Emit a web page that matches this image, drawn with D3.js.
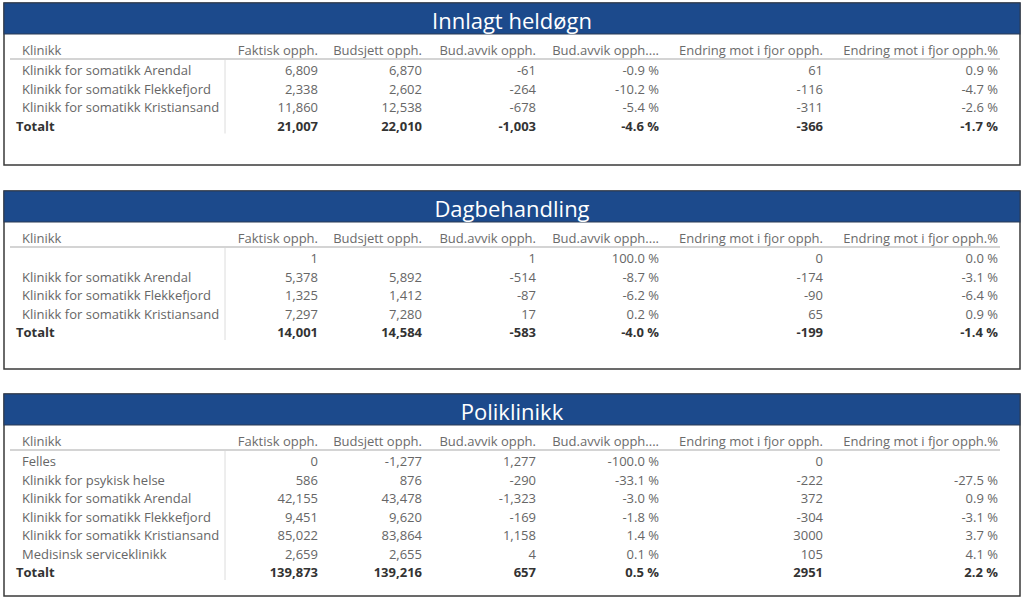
<!DOCTYPE html>
<html><head><meta charset="utf-8">
<script src="https://cdn.jsdelivr.net/npm/d3@7"></script>
<style>
html,body{margin:0;padding:0;background:#fff;}
svg{display:block;font-family:"Open Sans","Noto Sans",sans-serif;}
</style></head>
<body><svg id="c" width="1024" height="601"></svg>
<script>
// ---- data ----
const columns = ["Klinikk","Faktisk opph.","Budsjett opph.","Bud.avvik opph.","Bud.avvik opph....","Endring mot i fjor opph.","Endring mot i fjor opph.%"];

const titles = ["Innlagt heldøgn","Dagbehandling","Poliklinikk"];

const innlagtKlinikk  = ["Klinikk for somatikk Arendal","Klinikk for somatikk Flekkefjord","Klinikk for somatikk Kristiansand","Totalt"];
const innlagtFaktisk  = [6809, 2338, 11860, 21007];
const innlagtBudsjett = [6870, 2602, 12538, 22010];
const innlagtAvvik    = [-61, -264, -678, -1003];
const innlagtAvvikPct = [-0.9, -10.2, -5.4, -4.6];
const innlagtEndring  = [61, -116, -311, -366];
const innlagtEndrPct  = [0.9, -4.7, -2.6, -1.7];

const dagKlinikk  = ["","Klinikk for somatikk Arendal","Klinikk for somatikk Flekkefjord","Klinikk for somatikk Kristiansand","Totalt"];
const dagFaktisk  = [1, 5378, 1325, 7297, 14001];
const dagBudsjett = [null, 5892, 1412, 7280, 14584];
const dagAvvik    = [1, -514, -87, 17, -583];
const dagAvvikPct = [100.0, -8.7, -6.2, 0.2, -4.0];
const dagEndring  = [0, -174, -90, 65, -199];
const dagEndrPct  = [0.0, -3.1, -6.4, 0.9, -1.4];

const poliKlinikk  = ["Felles","Klinikk for psykisk helse","Klinikk for somatikk Arendal","Klinikk for somatikk Flekkefjord","Klinikk for somatikk Kristiansand","Medisinsk serviceklinikk","Totalt"];
const poliFaktisk  = [0, 586, 42155, 9451, 85022, 2659, 139873];
const poliBudsjett = [-1277, 876, 43478, 9620, 83864, 2655, 139216];
const poliAvvik    = [1277, -290, -1323, -169, 1158, 4, 657];
const poliAvvikPct = [-100.0, -33.1, -3.0, -1.8, 1.4, 0.1, 0.5];
const poliEndring  = [0, -222, 372, -304, 3000, 105, 2951];
const poliEndrPct  = [null, -27.5, 0.9, -3.1, 3.7, 4.1, 2.2];

const tables = [
  [innlagtKlinikk, innlagtFaktisk, innlagtBudsjett, innlagtAvvik, innlagtAvvikPct, innlagtEndring, innlagtEndrPct],
  [dagKlinikk, dagFaktisk, dagBudsjett, dagAvvik, dagAvvikPct, dagEndring, dagEndrPct],
  [poliKlinikk, poliFaktisk, poliBudsjett, poliAvvik, poliAvvikPct, poliEndring, poliEndrPct]
];

// ---- layout ----
const panelTop = [3, 191, 394];
const panelBottom = [165, 369, 596];
const L = 4, R = 1020, headH = 31;
const blue = "#1c4a8c";
const FS = 13;

const hy = s => s.replace(/\u2212/g, "-");
const fmtNum = v => hy(d3.format(",")(v));
const fmtInt = v => hy(d3.format("d")(v));
const fmtPct = v => hy(d3.format(".1f")(v)) + " %";
const formats = [null, fmtNum, fmtNum, fmtNum, fmtPct, fmtInt, fmtPct];

// column right edges (col 0 is left-anchored)
const colX = d3.scaleOrdinal().domain(d3.range(columns.length))
  .range([22, 318, 422, 536, 659, 823, 998]);

const svg = d3.select("#c");

tables.forEach((cols, ti) => {
  const top = panelTop[ti], bottom = panelBottom[ti];
  const g = svg.append("g");
  const n = cols[0].length;
  const rowY = d3.scaleLinear().domain([0, 1]).range([top + 67, top + 67 + 18.5]);

  g.append("rect").attr("x", L).attr("y", top).attr("width", R - L).attr("height", bottom - top)
    .attr("fill", "#fff").attr("stroke", "#3a3a3a").attr("stroke-width", 1.5);
  g.append("rect").attr("x", L).attr("y", top).attr("width", R - L).attr("height", headH)
    .attr("fill", blue).attr("stroke", "#2a3a55").attr("stroke-width", 1);
  g.append("text").attr("x", (L + R) / 2).attr("y", top + headH / 2 + 1)
    .attr("text-anchor", "middle").attr("dominant-baseline", "central")
    .attr("fill", "#fff").attr("font-size", 22)
    .text(titles[ti]);

  // column headers
  g.selectAll("text.h").data(columns).join("text")
    .attr("x", (d, i) => colX(i))
    .attr("y", top + 47).attr("dominant-baseline", "central")
    .attr("text-anchor", (d, i) => i === 0 ? "start" : "end")
    .attr("fill", "#6b6b6b").attr("font-size", FS)
    .text(d => d);

  g.append("line").attr("x1", 10).attr("x2", 1000).attr("y1", top + 56).attr("y2", top + 56)
    .attr("stroke", "#d4d4d4").attr("stroke-width", 2);

  g.append("line").attr("x1", 225).attr("x2", 225)
    .attr("y1", top + 57).attr("y2", rowY(n - 1) + 8)
    .attr("stroke", "#dcdcdc").attr("stroke-width", 1);

  // body
  for (let r = 0; r < n; r++) {
    const isTotal = r === n - 1;
    cols.forEach((col, ci) => {
      const v = col[r];
      if (v === null || v === "") return;
      const txt = ci === 0 ? v : formats[ci](v);
      g.append("text")
        .attr("x", ci === 0 ? (isTotal ? 16 : 22) : colX(ci))
        .attr("y", rowY(r)).attr("dominant-baseline", "central")
        .attr("text-anchor", ci === 0 ? "start" : "end")
        .attr("fill", isTotal ? "#333" : "#666")
        .attr("font-weight", isTotal ? "bold" : "normal")
        .attr("font-size", FS)
        .text(txt);
    });
  }
});
</script></body></html>
